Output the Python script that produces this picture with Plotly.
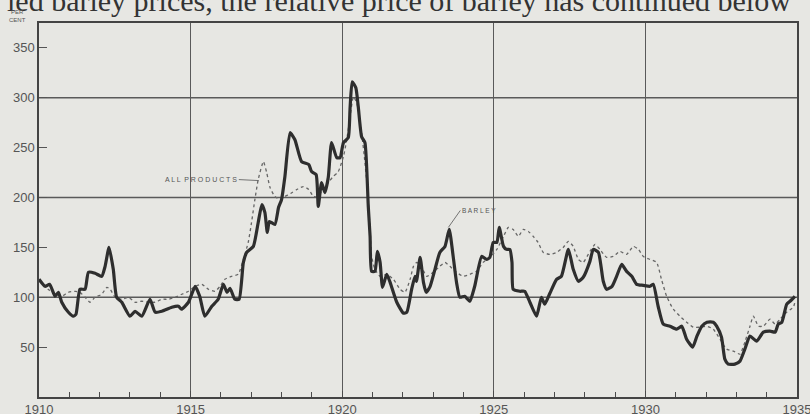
import plotly.graph_objects as go

# ---- data ----
barley_years = [1910.0, 1910.2, 1910.35, 1910.53, 1910.64, 1910.75, 1910.97, 1911.13, 1911.22, 1911.35,
                1911.52, 1911.63, 1911.85, 1912.07, 1912.18, 1912.31, 1912.45, 1912.56, 1912.73, 1913.0,
                1913.17, 1913.39, 1913.66, 1913.83, 1914.05, 1914.38, 1914.6, 1914.7, 1914.93, 1915.15,
                1915.3, 1915.47, 1915.7, 1915.91, 1916.08, 1916.2, 1916.3, 1916.46, 1916.6, 1916.74,
                1916.85, 1917.07, 1917.23, 1917.35, 1917.45, 1917.53, 1917.6, 1917.78, 1917.9, 1918.0,
                1918.11, 1918.28, 1918.44, 1918.66, 1918.9, 1918.99, 1919.14, 1919.21, 1919.32, 1919.43,
                1919.54, 1919.65, 1919.82, 1919.93, 1920.04, 1920.2, 1920.26, 1920.33, 1920.45, 1920.53,
                1920.64, 1920.75, 1920.86, 1920.92, 1920.97, 1921.08, 1921.16, 1921.25, 1921.33, 1921.47,
                1921.58, 1921.8, 1922.02, 1922.13, 1922.29, 1922.4, 1922.45, 1922.57, 1922.68, 1922.77,
                1922.9, 1923.06, 1923.22, 1923.39, 1923.53, 1923.66, 1923.77, 1923.88, 1924.04, 1924.21,
                1924.37, 1924.6, 1924.76, 1924.87, 1924.98, 1925.1, 1925.18, 1925.32, 1925.42, 1925.53,
                1925.6, 1925.64, 1925.86, 1926.02, 1926.19, 1926.41, 1926.57, 1926.68, 1926.85, 1927.07,
                1927.23, 1927.46, 1927.62, 1927.79, 1927.95, 1928.17, 1928.28, 1928.45, 1928.61, 1928.72,
                1928.9, 1929.05, 1929.22, 1929.38, 1929.55, 1929.71, 1929.93, 1930.15, 1930.26, 1930.42,
                1930.59, 1930.81, 1931.03, 1931.2, 1931.36, 1931.56, 1931.7, 1931.86, 1932.03, 1932.24,
                1932.35, 1932.51, 1932.62, 1932.73, 1932.95, 1933.12, 1933.28, 1933.45, 1933.67, 1933.89,
                1934.11, 1934.28, 1934.38, 1934.5, 1934.66, 1934.77, 1934.93]
barley_values = [118, 111, 113, 101, 105, 95, 85, 81, 83, 108,
                 108, 125, 124, 121, 131, 150, 128, 100, 95, 81,
                 86, 81, 98, 85, 86, 90, 91, 88, 95, 111,
                 101, 81, 91, 98, 113, 105, 109, 98, 98, 135,
                 145, 151, 175, 193, 185, 165, 176, 173, 190, 198,
                 221, 265, 258, 236, 233, 226, 223, 191, 215, 205,
                 220, 255, 240, 240, 255, 260, 290, 316, 310, 291,
                 261, 255, 191, 161, 126, 126, 146, 135, 110, 123,
                 115, 95, 84, 85, 108, 121, 116, 140, 115, 105,
                 111, 128, 145, 151, 168, 141, 115, 100, 101, 96,
                 111, 141, 138, 140, 155, 155, 170, 151, 148, 148,
                 135, 108, 106, 106, 95, 81, 100, 93, 104, 118,
                 121, 148, 128, 116, 120, 136, 148, 145, 116, 108,
                 111, 121, 133, 126, 121, 113, 112, 111, 113, 91,
                 73, 71, 68, 71, 58, 50, 61, 71, 75, 75,
                 71, 60, 38, 33, 33, 36, 48, 61, 56, 65,
                 66, 65, 73, 75, 93, 96, 101]

allprod_years = [1910.0, 1910.3, 1910.53, 1910.75, 1910.97, 1911.2, 1911.35, 1911.52, 1911.68, 1911.85,
                 1912.07, 1912.24, 1912.35, 1912.51, 1912.73, 1912.95, 1913.17, 1913.39, 1913.6, 1913.83,
                 1914.05, 1914.27, 1914.49, 1914.71, 1914.93, 1915.15, 1915.37, 1915.59, 1915.81, 1915.97,
                 1916.13, 1916.35, 1916.57, 1916.74, 1916.9, 1917.01, 1917.12, 1917.23, 1917.4, 1917.51,
                 1917.62, 1917.78, 1917.95, 1918.11, 1918.3, 1918.5, 1918.72, 1918.9, 1919.05, 1919.16,
                 1919.38, 1919.54, 1919.7, 1919.87, 1920.04, 1920.15, 1920.26, 1920.37, 1920.48, 1920.64,
                 1920.75, 1920.86, 1920.92, 1920.97, 1921.08, 1921.25, 1921.47, 1921.69, 1921.91, 1922.07,
                 1922.24, 1922.35, 1922.46, 1922.62, 1922.79, 1923.0, 1923.22, 1923.39, 1923.55, 1923.77,
                 1923.99, 1924.21, 1924.43, 1924.65, 1924.87, 1925.1, 1925.32, 1925.48, 1925.64, 1925.81,
                 1925.97, 1926.14, 1926.3, 1926.46, 1926.63, 1926.85, 1927.07, 1927.29, 1927.46, 1927.62,
                 1927.79, 1927.95, 1928.17, 1928.34, 1928.5, 1928.72, 1928.94, 1929.16, 1929.38, 1929.6,
                 1929.77, 1929.93, 1930.15, 1930.37, 1930.53, 1930.7, 1930.92, 1931.14, 1931.36, 1931.58,
                 1931.8, 1932.02, 1932.24, 1932.46, 1932.68, 1932.9, 1933.12, 1933.28, 1933.45, 1933.56,
                 1933.73, 1933.89, 1934.11, 1934.28, 1934.44, 1934.66, 1934.88, 1934.93]
allprod_values = [117, 108, 103, 101, 105, 106, 105, 100, 95, 100,
                  103, 110, 108, 100, 98, 100, 95, 96, 95, 95,
                  98, 98, 100, 103, 106, 111, 113, 108, 106, 111,
                  118, 121, 123, 138, 155, 175, 198, 218, 236, 225,
                  210, 201, 198, 201, 204, 208, 211, 208, 201, 201,
                  208, 215, 221, 226, 241, 258, 281, 301, 295, 265,
                  235, 198, 168, 141, 128, 121, 123, 118, 108, 105,
                  118, 131, 135, 130, 121, 125, 131, 135, 131, 125,
                  121, 123, 126, 135, 140, 148, 161, 170, 168, 161,
                  168, 166, 161, 155, 145, 143, 145, 150, 156, 151,
                  138, 135, 146, 153, 148, 140, 141, 146, 143, 151,
                  148, 141, 138, 135, 118, 101, 88, 81, 75, 70,
                  70, 71, 68, 58, 48, 46, 43, 55, 71, 81,
                  71, 71, 78, 73, 78, 85, 90, 95]

x_tick_vals = [1910, 1915, 1920, 1925, 1930, 1935]
x_tick_text = ["1910", "1915", "1920", "1925", "1930", "1935"]
x_minor_step = 1  # one small tick per year
y_tick_vals = [50, 100, 150, 200, 250, 300, 350]
y_tick_text = ["50", "100", "150", "200", "250", "300", "350"]
y_grid_vals = [100, 200, 300]

BG = "#e7e7e3"
GRID = "#5a5a5a"
FONT = "Liberation Sans Narrow, Liberation Sans, Arial"

fig = go.Figure()
fig.add_trace(go.Scatter(
    x=allprod_years, y=allprod_values, mode="lines", name="All products",
    line=dict(color="#666666", width=1.3, dash="dot", shape="spline", smoothing=0.5),
    hoverinfo="skip"))
fig.add_trace(go.Scatter(
    x=barley_years, y=barley_values, mode="lines", name="Barley",
    line=dict(color="#2e2e2e", width=3.2, shape="spline", smoothing=0.5),
    hoverinfo="skip"))

# horizontal rules at 100, 200, 300 (grid), drawn beneath the curves
for gv in y_grid_vals:
    fig.add_hline(y=gv, line=dict(color=GRID, width=1.6), layer="below")

fig.update_layout(
    width=810, height=414,
    margin=dict(l=39, r=13, t=23, b=17, autoexpand=False),
    paper_bgcolor=BG, plot_bgcolor=BG,
    showlegend=False,
    font=dict(family=FONT, color="#444444"),
    xaxis=dict(
        range=[x_tick_vals[0], x_tick_vals[-1]], tickmode="linear", tick0=x_tick_vals[0],
        dtick=x_tick_vals[1] - x_tick_vals[0],
        automargin=False, ticklabeloverflow="allow",
        showgrid=True, gridcolor=GRID, gridwidth=1.3,
        showline=True, linecolor="#444444", linewidth=1.5, mirror=True,
        ticks="inside", ticklen=6, tickcolor="#4a4a4a", tickwidth=1.2,
        zeroline=False, tickfont=dict(size=13, color="#555555"),
        minor=dict(tick0=x_tick_vals[0], dtick=x_minor_step, ticks="inside", ticklen=5,
                   tickcolor="#4a4a4a", tickwidth=1.2, showgrid=False),
    ),
    yaxis=dict(
        range=[0, 375], tickmode="array", tickvals=y_tick_vals, ticktext=y_tick_text,
        automargin=False,
        showgrid=False, showline=True, linecolor="#444444", linewidth=1.5, mirror=True,
        ticks="inside", ticklen=8, tickcolor="#555555", tickwidth=1.2,
        zeroline=False, tickfont=dict(size=13, color="#555555"),
    ),
    annotations=[
        dict(text="ied barley prices, the relative price of barley has continued below",
             xref="paper", yref="paper", x=-0.0445, y=1.012, xanchor="left", yanchor="bottom",
             showarrow=False, font=dict(family="Liberation Serif, Times New Roman", size=30, color="#333333")),
        dict(text="PER", xref="paper", yref="paper", x=-0.028, y=1.019, xanchor="center",
             yanchor="bottom", showarrow=False, borderpad=0,
             font=dict(family=FONT, size=6, color="#555555")),
        dict(text="CENT", xref="paper", yref="paper", x=-0.028, y=0.997, xanchor="center",
             yanchor="bottom", showarrow=False, borderpad=0,
             font=dict(family=FONT, size=6, color="#555555")),
        dict(text="A L L  P R O D U C T S", x=1917.25, y=217, xref="x", yref="y",
             ax=-20, ay=-1, showarrow=True, arrowhead=0, arrowwidth=0.8, arrowcolor="#555555",
             xanchor="right", font=dict(family=FONT, size=7, color="#555555")),
        dict(text="B A R L E Y", x=1923.5, y=170, xref="x", yref="y",
             ax=12, ay=-17, showarrow=True, arrowhead=0, arrowwidth=0.8, arrowcolor="#555555",
             xanchor="left", font=dict(family=FONT, size=6.5, color="#555555")),
    ],
)

fig.write_html("out.html", config={"displayModeBar": False},
               post_script="document.body.style.margin='0px';document.body.style.background='" + BG + "';")
